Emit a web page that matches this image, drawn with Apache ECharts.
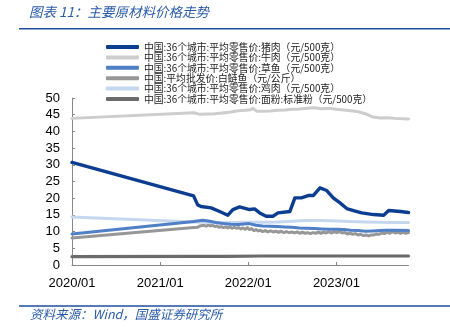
<!DOCTYPE html>
<html>
<head>
<meta charset="utf-8">
<script src="https://cdn.jsdelivr.net/npm/echarts@6/dist/echarts.min.js"></script>
<style>
html,body{margin:0;padding:0;background:#fff;}
#chart{width:450px;height:336px;}
</style>
</head>
<body>
<div id="chart"></div>
<script>
var seriesNames = [
  '中国:36个城市:平均零售价:猪肉（元/500克）',
  '中国:36个城市:平均零售价:牛肉（元/500克）',
  '中国:36个城市:平均零售价:草鱼（元/500克）',
  '中国:平均批发价:白鲢鱼（元/公斤）',
  '中国:36个城市:平均零售价:鸡肉（元/500克）',
  '中国:36个城市:平均零售价:面粉:标准粉（元/500克）'
];
var seriesColors = ['#0b3d91', '#cdcdcd', '#4f7fc6', '#979797', '#c5d7ee', '#6b6b6b'];
var xMin = '2020-01-01';
var xMax = '2023-10-27';
var yTicks = [0, 5, 10, 15, 20, 25, 30, 35, 40, 45, 50];

var pork = [
  ['2020-01-01',30.7],['2021-05-19',20.7],['2021-06-05',18.0],['2021-06-19',17.5],['2021-07-31',17.1],
  ['2021-09-04',16.0],['2021-10-08',14.9],['2021-10-29',16.6],['2021-11-26',17.4],['2022-01-06',16.6],
  ['2022-01-27',16.8],['2022-02-17',15.6],['2022-03-16',14.6],['2022-04-13',14.6],['2022-05-04',15.6],
  ['2022-06-22',16.0],['2022-07-13',20.1],['2022-08-09',20.1],['2022-09-06',20.8],['2022-09-27',20.8],
  ['2022-10-25',23.1],['2022-11-22',22.3],['2022-12-19',20.1],['2023-01-16',18.6],['2023-02-13',16.9],
  ['2023-03-13',16.3],['2023-04-16',15.6],['2023-06-04',15.1],['2023-07-16',14.9],['2023-08-06',16.3],
  ['2023-09-23',16.0],['2023-10-27',15.7]
];
var beef = [
  ['2020-01-01',43.9],['2021-05-20',45.6],['2021-06-15',45.1],['2021-07-15',45.2],['2021-08-15',45.3],
  ['2021-09-15',45.5],['2021-10-20',45.8],['2021-11-20',46.2],['2021-12-20',46.3],['2022-01-10',46.5],
  ['2022-01-20',46.9],['2022-02-05',46.0],['2022-03-01',46.0],['2022-04-01',46.1],['2022-05-01',46.3],
  ['2022-06-01',46.4],['2022-07-01',46.6],['2022-08-01',46.7],['2022-09-01',46.9],['2022-10-01',47.1],
  ['2022-11-01',46.8],['2022-12-01',46.9],['2023-01-01',46.6],['2023-02-01',46.4],['2023-03-01',46.2],
  ['2023-04-01',45.9],['2023-05-01',45.3],['2023-06-01',44.3],['2023-07-01',44.0],['2023-08-01',44.1],
  ['2023-09-01',43.9],['2023-10-27',43.7]
];
var grassCarp = [
  ['2020-01-01',9.3],['2021-05-20',13.0],['2021-06-25',13.4],['2021-07-20',13.2],['2021-08-20',12.7],
  ['2021-09-20',12.4],['2021-10-20',12.2],['2021-11-20',12.1],['2022-01-05',12.4],['2022-02-01',11.9],
  ['2022-03-01',11.7],['2022-04-01',11.6],['2022-05-01',11.5],['2022-06-01',11.4],['2022-07-01',11.3],
  ['2022-08-01',11.1],['2022-09-01',11.0],['2022-10-01',10.9],['2022-11-01',10.8],['2022-12-01',10.7],
  ['2023-01-01',10.7],['2023-02-01',10.6],['2023-03-01',10.4],['2023-04-01',10.3],['2023-05-01',10.1],
  ['2023-06-01',10.2],['2023-07-01',10.3],['2023-08-01',10.4],['2023-09-01',10.4],['2023-10-27',10.3]
];
var silverCarp = [
  ['2020-01-01',8.1],['2021-05-20',11.2],['2021-05-28',11.6],['2021-06-05',11.3],['2021-06-14',11.7],
  ['2021-06-22',11.5],['2021-07-01',11.9],['2021-07-10',11.6],['2021-07-19',12.0],['2021-07-28',11.7],
  ['2021-08-06',11.9],['2021-08-15',11.5],['2021-08-24',11.7],['2021-09-02',11.3],['2021-09-11',11.5],
  ['2021-09-20',11.2],['2021-09-29',11.4],['2021-10-08',11.1],['2021-10-17',11.4],['2021-10-26',11.0],
  ['2021-11-04',11.3],['2021-11-13',11.0],['2021-11-22',11.2],['2021-12-01',10.8],['2021-12-10',11.1],
  ['2021-12-19',10.7],['2021-12-28',11.2],['2022-01-06',10.6],['2022-01-15',10.9],['2022-01-24',10.3],
  ['2022-02-02',10.6],['2022-02-11',10.2],['2022-02-20',10.4],['2022-03-01',10.0],['2022-03-12',10.3],
  ['2022-03-23',9.9],['2022-04-03',10.2],['2022-04-14',9.9],['2022-04-25',10.1],['2022-05-06',9.8],
  ['2022-05-17',10.1],['2022-05-28',9.7],['2022-06-08',10.0],['2022-06-19',9.7],['2022-06-30',9.9],
  ['2022-07-11',9.6],['2022-07-22',9.9],['2022-08-02',9.5],['2022-08-13',9.8],['2022-08-24',9.5],
  ['2022-09-04',9.7],['2022-09-15',9.4],['2022-09-26',9.7],['2022-10-07',9.5],['2022-10-18',9.8],
  ['2022-10-29',9.5],['2022-11-09',9.8],['2022-11-20',9.6],['2022-12-01',9.9],['2022-12-12',9.6],
  ['2022-12-23',10.0],['2023-01-03',9.7],['2023-01-14',10.0],['2023-01-25',9.6],['2023-02-05',9.7],
  ['2023-02-16',9.3],['2023-02-27',9.5],['2023-03-10',9.2],['2023-03-21',9.4],['2023-04-01',9.0],
  ['2023-04-12',9.2],['2023-04-23',8.8],['2023-05-04',9.0],['2023-05-15',8.7],['2023-05-26',9.0],
  ['2023-06-06',9.0],['2023-06-17',9.3],['2023-06-28',9.2],['2023-07-09',9.6],['2023-07-20',9.4],
  ['2023-07-31',9.8],['2023-08-11',9.5],['2023-08-22',10.0],['2023-09-02',9.6],['2023-09-13',9.8],
  ['2023-09-24',9.5],['2023-10-05',9.8],['2023-10-16',9.5],['2023-10-27',9.7]
];
var chicken = [
  ['2020-01-01',14.4],['2021-05-20',12.9],['2021-07-01',12.8],['2021-09-01',12.6],['2021-11-01',12.7],
  ['2022-01-01',12.8],['2022-03-01',12.8],['2022-05-01',12.9],['2022-07-01',13.1],['2022-09-01',13.3],
  ['2022-11-01',13.3],['2023-01-01',13.2],['2023-03-01',13.0],['2023-05-01',12.9],['2023-07-01',12.8],
  ['2023-09-01',12.7],['2023-10-27',12.7]
];
var flour = [
  ['2020-01-01',2.5],['2021-05-20',2.6],['2021-10-01',2.6],['2022-03-01',2.7],['2022-09-01',2.7],
  ['2023-03-01',2.7],['2023-10-27',2.7]
];

var seriesData = [pork, beef, grassCarp, silverCarp, chicken, flour];
var zOrder = [9, 3, 6, 4, 5, 7];
var lineWidths = [3.4, 3, 3, 3, 3, 3.2];

var chart = echarts.init(document.getElementById('chart'), null, {renderer: 'canvas'});
var DAY = 86400000;
var option = {
  animation: false,
  backgroundColor: '#ffffff',
  textStyle: {fontFamily: '"Liberation Sans", Arial, "Noto Sans CJK SC", sans-serif'},
  grid: {left: 72, right: 41.5, top: 98, bottom: 71, containLabel: false},
  legend: {
    orient: 'vertical',
    left: 106,
    top: 41.8,
    padding: 0,
    itemGap: 0,
    itemWidth: 33,
    itemHeight: 4,
    icon: 'roundRect',
    data: seriesNames,
    textStyle: {fontSize: 9.8, lineHeight: 10.4, color: '#222', fontFamily: '"Noto Sans CJK SC", sans-serif'}
  },
  xAxis: {
    type: 'time',
    min: xMin,
    max: xMax,
    minInterval: 365 * DAY,
    maxInterval: 366 * DAY,
    axisLine: {show: true, lineStyle: {color: '#888', width: 1}},
    axisTick: {show: true, inside: true, length: 3, lineStyle: {color: '#888'}},
    splitLine: {show: false},
    axisLabel: {
      margin: 12,
      fontSize: 13,
      color: '#000',
      fontFamily: '"Liberation Sans", Arial, sans-serif',
      formatter: function (v) {
        var d = new Date(v);
        var m = d.getMonth() + 1;
        return d.getFullYear() + '/' + (m < 10 ? '0' + m : m);
      }
    }
  },
  yAxis: {
    type: 'value',
    min: yTicks[0],
    max: yTicks[yTicks.length - 1],
    interval: yTicks[1] - yTicks[0],
    axisLine: {show: true, lineStyle: {color: '#888', width: 1}},
    axisTick: {show: true, inside: true, length: 3, lineStyle: {color: '#888'}},
    splitLine: {show: false},
    axisLabel: {margin: 12, fontSize: 13, color: '#000', fontFamily: '"Liberation Sans", Arial, sans-serif'}
  },
  series: seriesNames.map(function (name, i) {
    return {
      name: name,
      type: 'line',
      data: seriesData[i],
      showSymbol: false,
      symbol: 'none',
      z: zOrder[i],
      color: seriesColors[i],
      lineStyle: {width: lineWidths[i], color: seriesColors[i], cap: 'round', join: 'round'}
    };
  }),
  graphic: [
    {type: 'text', left: 29, top: 5, style: {text: '图表 11：主要原材料价格走势', font: 'italic 13.5px "Noto Sans CJK SC", sans-serif', fill: '#2a5caa'}},
    {type: 'line', shape: {x1: 19, y1: 28.8, x2: 450, y2: 28.8}, style: {stroke: '#1e4e9c', lineWidth: 1.5}},
    {type: 'line', shape: {x1: 19, y1: 306, x2: 450, y2: 306}, style: {stroke: '#1e4e9c', lineWidth: 1.5}},
    {type: 'text', left: 30, top: 308, style: {text: '资料来源：Wind，国盛证券研究所', font: 'italic 12.5px "Noto Sans CJK SC", sans-serif', fill: '#2a5caa'}}
  ]
};
chart.setOption(option);
</script>
</body>
</html>
